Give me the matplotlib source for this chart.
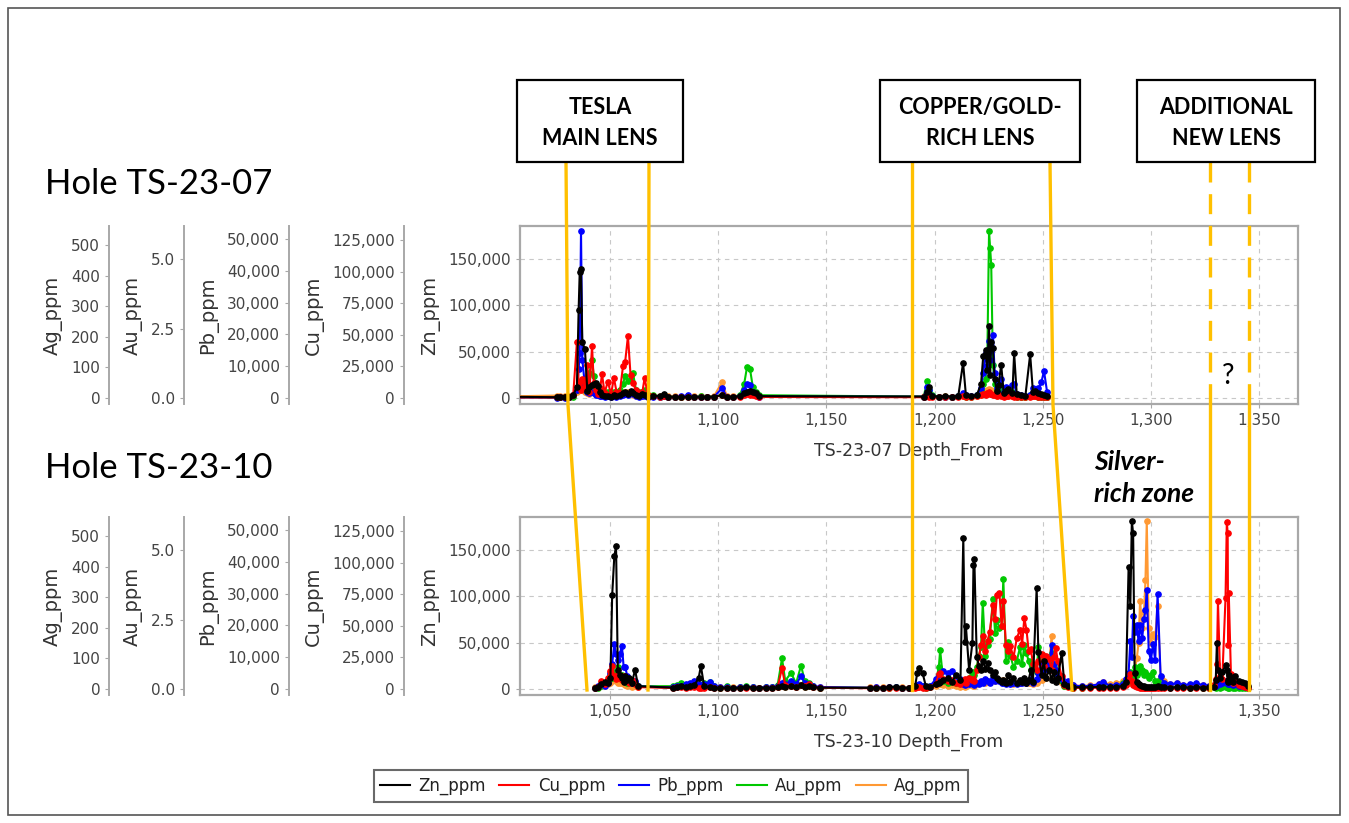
import matplotlib
matplotlib.use("Agg")
import matplotlib.pyplot as plt
from matplotlib.lines import Line2D
from matplotlib.patches import Rectangle
from matplotlib.ticker import FuncFormatter

# ! data (ppm, depth in m)
elements = ["Zn_ppm", "Cu_ppm", "Pb_ppm", "Au_ppm", "Ag_ppm"]
colors = ["#000000", "#ff0000", "#0000ff", "#00c800", "#ff9933"]

# ? hole TS-23-07
d07 = [1000, 1025.5, 1027, 1029, 1031, 1033, 1034.7, 1035.5, 1036, 1036.6,
       1037.2, 1038.4, 1039.5, 1040.5, 1041.7, 1042.5, 1043.5, 1044.5, 1045.5, 1046.3,
       1047.5, 1049, 1050.5, 1051.8, 1053, 1054.5, 1056, 1057, 1058.3, 1059.5,
       1060.6, 1062, 1063.5, 1065, 1066, 1067.5, 1070, 1073, 1075, 1077,
       1080, 1083, 1086, 1089, 1092, 1095, 1098, 1101.8, 1104, 1107,
       1110, 1112, 1113.3, 1114.7, 1116, 1117.5, 1119, 1195, 1196.6, 1197.5,
       1199, 1202, 1205, 1208, 1211, 1213.2, 1214.5, 1217, 1219.5, 1221.5,
       1222.5, 1223.6, 1224.4, 1225.2, 1225.7, 1226.2, 1227, 1227.8, 1228.8, 1229.6,
       1230.8, 1232, 1233, 1234, 1236, 1236.8, 1238, 1240, 1242, 1244.2,
       1245.5, 1246.5, 1248, 1249.4, 1250.6, 1252]
zn07 = [1500, 800, 1200, 900, 1500, 3000, 12000, 95000, 136000, 139000,
        60000, 53000, 8000, 12000, 14000, 15000, 16000, 13000, 6000, 3000,
        2000, 2500, 1500, 3000, 2000, 3500, 5000, 6000, 4000, 8000,
        5000, 3000, 2000, 4000, 3000, 1500, 2000, 2500, 4500, 1500,
        1200, 1000, 1500, 1200, 1000, 1200, 1500, 3000, 1500, 1200,
        2000, 5000, 6000, 8000, 7000, 5000, 2000, 1500, 7000, 12000,
        2000, 1500, 2000, 1500, 2500, 38000, 3000, 2000, 3000, 15000,
        45000, 52000, 30000, 77600, 25000, 60000, 54000, 20000, 8000, 14000,
        36000, 5000, 8000, 10000, 5000, 48500, 4000, 3000, 2500, 47000,
        6000, 8000, 5000, 4000, 3000, 2000]
cu07 = [500, 400, 600, 500, 800, 2500, 44000, 12000, 8000, 6000,
        15000, 9000, 26000, 5000, 41000, 12000, 6000, 3000, 8000, 19000,
        4000, 13000, 3000, 16000, 5000, 4000, 25000, 28500, 49000, 18000,
        12000, 6000, 3000, 5000, 16000, 2000, 1500, 1000, 1500, 800,
        600, 500, 700, 500, 800, 600, 700, 2000, 800, 600,
        1000, 2000, 3000, 2500, 2000, 1500, 800, 600, 1500, 1000,
        800, 600, 800, 500, 800, 1200, 800, 1000, 1500, 2500,
        3500, 2500, 4000, 4700, 3000, 3500, 2500, 2000, 1500, 2000,
        1800, 1000, 1500, 1200, 1500, 1000, 800, 600, 700, 1000,
        1500, 1200, 1000, 800, 600, 500]
pb07 = [200, 150, 200, 150, 300, 800, 2500, 9000, 14000, 52500,
        12000, 4000, 2000, 1500, 2000, 1500, 1000, 800, 600, 500,
        400, 500, 300, 500, 400, 600, 800, 1200, 1000, 1500,
        1200, 500, 400, 600, 500, 300, 400, 300, 500, 300,
        200, 600, 800, 300, 400, 200, 300, 3100, 400, 300,
        600, 2500, 4500, 4000, 2000, 1000, 400, 400, 3500, 2500,
        500, 300, 400, 300, 600, 1500, 800, 500, 800, 3000,
        8000, 14000, 10000, 18000, 12000, 15000, 19800, 8000, 3000, 5000,
        6000, 2000, 3500, 2000, 4000, 4500, 1200, 800, 600, 1000,
        3000, 2500, 3000, 5000, 8500, 2000]
au07 = [0.02, 0.02, 0.03, 0.02, 0.03, 0.05, 0.3, 0.4, 0.5, 0.6,
        0.4, 0.3, 0.6, 0.9, 1.37, 0.8, 0.4, 0.3, 0.2, 0.3,
        0.2, 0.2, 0.1, 0.2, 0.2, 0.3, 0.5, 0.8, 0.6, 0.7,
        0.9, 0.3, 0.2, 0.2, 0.3, 0.1, 0.1, 0.05, 0.1, 0.05,
        0.04, 0.04, 0.06, 0.04, 0.08, 0.04, 0.05, 0.1, 0.05, 0.04,
        0.1, 0.5, 1.1, 1.05, 0.4, 0.2, 0.1, 0.05, 0.6, 0.3,
        0.1, 0.05, 0.05, 0.04, 0.06, 0.1, 0.05, 0.05, 0.1, 0.3,
        0.5, 0.7, 1.5, 6.0, 5.4, 4.8, 1.2, 0.5, 0.3, 0.4,
        0.3, 0.1, 0.2, 0.1, 0.2, 0.1, 0.05, 0.05, 0.05, 0.1,
        0.1, 0.1, 0.05, 0.05, 0.05, 0.04]
ag07 = [5, 8, 6, 5, 8, 10, 20, 30, 25, 40,
        30, 20, 15, 12, 25, 18, 12, 10, 8, 12,
        6, 8, 6, 10, 8, 12, 15, 18, 20, 15,
        10, 8, 6, 8, 10, 6, 5, 5, 8, 5,
        5, 4, 6, 5, 5, 4, 5, 52, 6, 5,
        8, 15, 20, 18, 12, 10, 6, 5, 10, 8,
        5, 4, 5, 4, 6, 8, 5, 5, 6, 10,
        15, 20, 25, 30, 20, 25, 20, 12, 8, 10,
        10, 6, 8, 6, 8, 6, 5, 4, 4, 6,
        8, 6, 5, 5, 5, 4]

# ? hole TS-23-10
d10 = [1043, 1044.5, 1046, 1047.5, 1049, 1050.2, 1051, 1052, 1052.8, 1053.6,
       1054.5, 1055.5, 1056.3, 1057, 1058, 1059, 1060, 1061.6, 1063, 1079,
       1081, 1083, 1085, 1087, 1089, 1091, 1092, 1093.5, 1096, 1098,
       1101, 1104, 1107, 1110, 1113, 1116, 1119, 1122, 1125, 1127.5,
       1129.5, 1131, 1133.7, 1136, 1138.3, 1140, 1142, 1144, 1147, 1170,
       1173, 1176, 1179, 1182, 1185, 1188, 1191, 1192, 1193, 1194.5,
       1196, 1198, 1200.5, 1202, 1202.6, 1204, 1206, 1208, 1210, 1212,
       1213.3, 1214, 1214.5, 1216, 1217.5, 1218, 1218.4, 1219.5, 1220.5, 1221.5,
       1222.3, 1223.5, 1224.5, 1225.5, 1227, 1228, 1228.8, 1230, 1231, 1231.8,
       1233, 1234, 1235, 1236.5, 1238, 1239.5, 1240.5, 1241.5, 1242.5, 1243.5,
       1244.5, 1245.5, 1247.2, 1248, 1249.5, 1250.5, 1251.5, 1253, 1254.1, 1255,
       1256, 1257, 1258.8, 1260, 1261.8, 1264, 1268, 1272, 1276, 1278,
       1281, 1284, 1287, 1288.5, 1289.7, 1290.5, 1291.2, 1291.8, 1292.5, 1293.5,
       1294.3, 1295, 1296, 1296.8, 1297.5, 1298.1, 1299, 1300, 1301, 1302,
       1303.1, 1304.5, 1306, 1309, 1312, 1315, 1318, 1321, 1324, 1327,
       1329, 1330, 1330.5, 1331, 1332, 1333, 1334.5, 1335.1, 1335.5, 1335.7,
       1336, 1337, 1338, 1339, 1340.5, 1342, 1343.5, 1345]
zn10 = [1000, 2500, 5000, 8000, 6000, 12000, 101000, 143500, 154000, 20000,
        15000, 12000, 8000, 14000, 10000, 12000, 6000, 20500, 3000, 1500,
        2000, 3000, 2500, 3000, 4000, 12000, 25000, 3000, 2000, 1500,
        1200, 1500, 1000, 1200, 2500, 1500, 1200, 1500, 1200, 2000,
        3000, 2500, 3000, 2000, 4000, 2500, 3500, 2000, 1500, 1200,
        1500, 1200, 2000, 2500, 1500, 1200, 3000, 17000, 22600, 17000,
        3000, 2000, 5000, 6000, 8000, 10000, 12000, 8000, 15000, 10000,
        163000, 51000, 68000, 20000, 50000, 133600, 140000, 35000, 25000, 20000,
        30000, 22000, 28000, 20000, 15000, 18000, 12000, 10000, 8000, 10000,
        6000, 15000, 8000, 12000, 6000, 10000, 8000, 12000, 6000, 10000,
        20000, 8000, 109000, 40000, 15000, 30000, 12000, 20000, 10000, 18000,
        8000, 12000, 38900, 5000, 3000, 2000, 1800, 2000, 2200, 2500,
        2000, 2500, 3000, 8000, 131600, 90000, 181000, 168000, 17000, 8000,
        5000, 4000, 3000, 3000, 2500, 2000, 2500, 2000, 2500, 2000,
        3000, 2000, 1800, 1500, 2000, 1800, 1500, 2000, 1500, 1800,
        2500, 10000, 49600, 20000, 12000, 18000, 26000, 20000, 10000, 8000,
        15000, 12000, 8000, 14000, 9000, 8000, 6000, 3000]
cu10 = [600, 1500, 6000, 4000, 9000, 14000, 18000, 10000, 8000, 12000,
        9000, 7000, 10000, 6000, 8000, 5000, 7000, 4000, 1500, 800,
        1200, 1500, 1000, 1200, 1500, 1000, 800, 1000, 1500, 800,
        600, 800, 500, 700, 800, 600, 500, 700, 600, 1500,
        16600, 3000, 2000, 1500, 3000, 2000, 4000, 1500, 1000, 600,
        800, 600, 700, 800, 600, 500, 1000, 1500, 1200, 1000,
        800, 1500, 4000, 12000, 13000, 8000, 6000, 7000, 5000, 4000,
        6000, 8000, 5000, 9000, 7000, 8000, 6000, 15000, 25000, 35000,
        41900, 30000, 38000, 45000, 66400, 55000, 74400, 76000, 50000, 70000,
        35000, 30000, 34000, 25000, 40000, 47000, 36000, 56000, 47000, 30000,
        32000, 20000, 15000, 22000, 28000, 18000, 26000, 24000, 15000, 25000,
        32400, 22000, 10000, 3000, 1500, 1000, 800, 1000, 900, 1000,
        800, 1000, 1200, 3000, 8000, 12000, 6000, 3000, 2000, 1500,
        1200, 1000, 900, 800, 700, 700, 800, 600, 700, 800,
        900, 600, 600, 500, 600, 500, 500, 600, 500, 600,
        3000, 8000, 20000, 69600, 10000, 8000, 72000, 132000, 123400, 35000,
        76000, 12000, 5000, 6000, 3000, 2000, 1500, 1000]
pb10 = [300, 800, 1500, 1000, 2000, 5000, 8000, 14000, 11000, 9000,
        11000, 13600, 7000, 7000, 4000, 3000, 2000, 2500, 800, 500,
        800, 1000, 1500, 1800, 2500, 1500, 1000, 1500, 2200, 800,
        500, 600, 400, 500, 600, 500, 400, 600, 500, 800,
        2000, 1500, 2500, 1500, 4000, 2000, 1500, 1000, 600, 400,
        500, 400, 600, 500, 400, 300, 800, 1200, 1500, 1000,
        600, 1000, 3000, 4500, 5000, 5600, 5000, 5600, 4000, 3000,
        1500, 1200, 2000, 1500, 2000, 1500, 1200, 2000, 1500, 2500,
        2000, 3000, 2500, 2000, 3500, 2500, 3000, 2500, 2000, 1800,
        1500, 2000, 1500, 2000, 1500, 1800, 2000, 2500, 2000, 2500,
        3000, 2000, 3000, 5000, 8000, 6000, 9000, 7000, 13900, 8000,
        6000, 4000, 3000, 1500, 2500, 1200, 800, 1000, 1500, 2200,
        1000, 1200, 1500, 3000, 5000, 15000, 10000, 23000, 18000, 20000,
        15000, 20000, 16000, 22000, 25000, 31100, 12000, 9000, 14000, 9000,
        29900, 4000, 2000, 1500, 1800, 1200, 1500, 1800, 1200, 1000,
        1200, 1000, 1500, 2000, 1500, 2000, 2500, 2000, 1500, 1800,
        1500, 2000, 1200, 1500, 1000, 800, 600, 500]
au10 = [0.03, 0.05, 0.1, 0.2, 0.3, 0.5, 0.4, 0.6, 0.5, 0.8,
        0.4, 0.5, 0.3, 0.4, 0.2, 0.3, 0.2, 0.2, 0.1, 0.1,
        0.15, 0.2, 0.1, 0.1, 0.15, 0.1, 0.1, 0.2, 0.25, 0.1,
        0.05, 0.1, 0.05, 0.08, 0.1, 0.06, 0.05, 0.08, 0.06, 0.15,
        1.1, 0.3, 0.58, 0.2, 0.84, 0.3, 0.2, 0.1, 0.05, 0.04,
        0.05, 0.04, 0.05, 0.06, 0.04, 0.04, 0.1, 0.1, 0.15, 0.1,
        0.05, 0.1, 0.2, 0.8, 1.4, 0.3, 0.2, 0.3, 0.2, 0.3,
        0.2, 0.2, 0.3, 0.4, 0.5, 0.6, 0.5, 0.8, 1.2, 1.5,
        3.1, 1.2, 1.6, 1.8, 3.24, 2.0, 2.5, 2.2, 2.26, 3.96,
        1.0, 1.7, 1.2, 0.8, 1.0, 1.5, 0.9, 1.6, 1.3, 1.0,
        0.7, 0.8, 0.6, 1.5, 0.9, 1.2, 0.8, 1.0, 1.3, 0.8,
        0.6, 0.5, 0.3, 0.1, 0.1, 0.05, 0.05, 0.06, 0.08, 0.1,
        0.06, 0.1, 0.2, 0.3, 0.3, 0.6, 0.5, 0.4, 0.8, 0.5,
        0.6, 0.82, 0.7, 0.5, 0.6, 0.5, 0.4, 0.5, 0.6, 0.3,
        0.3, 0.15, 0.1, 0.06, 0.08, 0.06, 0.05, 0.06, 0.05, 0.05,
        0.06, 0.05, 0.06, 0.08, 0.05, 0.06, 0.08, 0.07, 0.06, 0.05,
        0.05, 0.06, 0.05, 0.04, 0.04, 0.03, 0.03, 0.02]
ag10 = [5, 8, 12, 10, 15, 20, 25, 30, 25, 20,
        18, 20, 15, 12, 10, 12, 8, 10, 6, 8,
        10, 12, 8, 10, 12, 8, 6, 8, 10, 6,
        5, 6, 5, 6, 5, 5, 4, 6, 5, 8,
        12, 8, 10, 8, 12, 8, 10, 6, 5, 5,
        6, 5, 6, 5, 5, 4, 6, 8, 10, 8,
        5, 6, 10, 15, 15, 12, 10, 12, 10, 8,
        10, 8, 10, 12, 12, 10, 10, 15, 20, 22,
        25, 20, 25, 22, 28, 25, 30, 28, 25, 30,
        20, 18, 18, 15, 18, 20, 22, 25, 20, 18,
        20, 15, 20, 25, 30, 40, 35, 80, 173, 60,
        40, 30, 20, 10, 15, 12, 10, 12, 15, 22,
        15, 18, 25, 30, 20, 40, 30, 35, 60, 100,
        150, 288, 200, 250, 357, 549, 200, 150, 180, 170,
        271, 40, 25, 15, 18, 14, 12, 15, 12, 10,
        12, 15, 20, 25, 15, 12, 20, 18, 15, 12,
        15, 12, 10, 10, 8, 8, 6, 5]

x_ticks = [1050, 1100, 1150, 1200, 1250, 1300, 1350]
y_ticks = {"Zn_ppm": [0, 50000, 100000, 150000],
           "Cu_ppm": [0, 25000, 50000, 75000, 100000, 125000],
           "Pb_ppm": [0, 10000, 20000, 30000, 40000, 50000],
           "Au_ppm": [0, 2.5, 5.0],
           "Ag_ppm": [0, 100, 200, 300, 400, 500]}
y_lims = {"Zn_ppm": (-6475, 185600), "Cu_ppm": (-4750, 136100),
          "Pb_ppm": (-1887, 54090), "Au_ppm": (-0.216, 6.19),
          "Ag_ppm": (-19.6, 562)}
spine_pos = {"Ag_ppm": -0.528, "Au_ppm": -0.432, "Pb_ppm": -0.297, "Cu_ppm": -0.149}

W, H = 1349, 823
fig = plt.figure(figsize=(W / 100, H / 100), dpi=100)


def fx(x):
    return x / W


def fy(y):
    return 1 - y / H


GRID = "#c8c8c8"
FRAME = "#a8a8a8"
TICKC = "#444444"
comma = FuncFormatter(lambda v, p: f"{v:,.0f}")
onedec = FuncFormatter(lambda v, p: f"{v:.1f}")


def panel(top_px, depth, vals, xlabel):
    ax = fig.add_axes([fx(520), fy(top_px + 178), 778 / W, 178 / H])
    ax.set_xlim(1008.4, 1368)
    ax.set_ylim(y_lims["Zn_ppm"])
    ax.set_xticks(x_ticks)
    ax.set_yticks(y_ticks["Zn_ppm"])
    ax.xaxis.set_major_formatter(comma)
    ax.yaxis.set_major_formatter(comma)
    ax.grid(True, ls=(0, (4, 4)), color=GRID, lw=0.8)
    for s in ax.spines.values():
        s.set_color(FRAME)
        s.set_linewidth(1.6)
    ax.tick_params(color=FRAME, length=3, labelsize=11, labelcolor=TICKC)
    ax.set_ylabel("Zn_ppm", fontsize=14, color="#333333", labelpad=6)
    ax.set_xlabel(xlabel, fontsize=12.5, color="#333333", labelpad=10)

    # extra value axes on the left (Ag, Au, Pb, Cu), then Zn on top
    order = ["Ag_ppm", "Au_ppm", "Pb_ppm", "Cu_ppm", "Zn_ppm"]
    for name in order:
        i = elements.index(name)
        t = ax.twinx()
        t.set_ylim(y_lims[name])
        if name == "Zn_ppm":
            t.axis("off")
        else:
            t.yaxis.tick_left()
            t.yaxis.set_label_position("left")
            for k in ["top", "right", "bottom"]:
                t.spines[k].set_visible(False)
            t.spines["left"].set_visible(True)
            t.spines["left"].set_position(("axes", spine_pos[name]))
            t.spines["left"].set_color(FRAME)
            t.spines["left"].set_linewidth(1.4)
            t.set_yticks(y_ticks[name])
            t.yaxis.set_major_formatter(onedec if name == "Au_ppm" else comma)
            t.tick_params(color=FRAME, length=3, labelsize=11, labelcolor=TICKC)
            t.set_ylabel(name, fontsize=14, color="#333333", labelpad=6)
        t.plot(depth, vals[i], color=colors[i], lw=1.5, marker="o", ms=3.8,
               mec=colors[i], mfc=colors[i], clip_on=True)
    return ax


panel(226, d07, [zn07, cu07, pb07, au07, ag07], "TS-23-07 Depth_From")
panel(517, d10, [zn10, cu10, pb10, au10, ag10], "TS-23-10 Depth_From")

# ! hole titles
fig.text(fx(45), fy(184), "Hole TS-23-07", fontsize=25, family="Lato", va="center")
fig.text(fx(45), fy(468), "Hole TS-23-10", fontsize=25, family="Lato", va="center")

# ! lens boxes
boxes = [(517, 683, "TESLA\nMAIN LENS"), (880, 1080, "COPPER/GOLD-\nRICH LENS"),
         (1137, 1315, "ADDITIONAL\nNEW LENS")]
for x0, x1, txt in boxes:
    fig.patches.append(Rectangle((fx(x0), fy(162)), (x1 - x0) / W, 82 / H,
                                 transform=fig.transFigure, fill=True, fc="white",
                                 ec="black", lw=1.6, zorder=5))
    fig.text(fx((x0 + x1) / 2), fy(123), txt, ha="center", va="center",
             fontsize=15.5, family="Lato", weight="bold", linespacing=1.6, zorder=6)

# ! yellow guide lines
YEL = "#ffc000"
solid = [[(566, 162), (568, 405), (587, 690)],
         [(649, 162), (648, 690)],
         [(912, 162), (912, 690)],
         [(1050, 162), (1053, 405), (1072, 690)],
         [(1210, 405), (1210, 690)],
         [(1249, 405), (1249, 690)]]
dashed = [[(1210, 162), (1210, 405)], [(1249, 162), (1249, 405)]]
for pts in solid:
    fig.add_artist(Line2D([fx(p[0]) for p in pts], [fy(p[1]) for p in pts],
                          color=YEL, lw=2.4, zorder=4))
for pts in dashed:
    fig.add_artist(Line2D([fx(p[0]) for p in pts], [fy(p[1]) for p in pts],
                          color=YEL, lw=2.4, ls=(0, (6, 3.5)), zorder=4))

fig.text(fx(1228), fy(376), "?", fontsize=20, family="Lato", ha="center", va="center")
fig.text(fx(1094), fy(478), "Silver-\nrich zone", fontsize=19, family="Lato",
         weight="bold", style="italic", ha="left", va="center", linespacing=1.35)

# ! legend
handles = [Line2D([], [], color=c, lw=1.5) for c in colors]
leg = fig.legend(handles, elements, loc="center", bbox_to_anchor=(fx(671), fy(786)),
                 ncol=5, fontsize=12, frameon=True, fancybox=False,
                 edgecolor="#444444", handlelength=1.8, handletextpad=0.5,
                 columnspacing=0.8, borderpad=0.4)
leg.get_frame().set_linewidth(1.5)
for t in leg.get_texts():
    t.set_color("#222222")

# ! outer border
fig.patches.append(Rectangle((fx(8), fy(815)), (1340 - 8) / W, (815 - 8) / H,
                             transform=fig.transFigure, fill=False, ec="#555555", lw=1.2))

fig.savefig("out.png", dpi=100)
